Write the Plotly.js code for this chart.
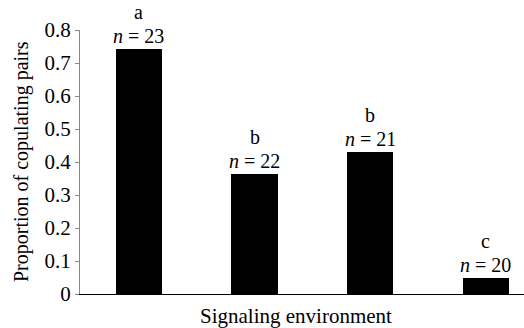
<!DOCTYPE html>
<html>
<head>
<meta charset="utf-8">
<script src="https://cdn.plot.ly/plotly-3.0.1.min.js"></script>
<style>html,body{margin:0;padding:0;background:#fff}#chart{width:524px;height:328px}</style>
</head>
<body>
<div id="chart"></div>
<script>
var categories = ["A", "B", "C", "D"];
var proportions = [0.742, 0.364, 0.429, 0.048];
var letters = ["a", "b", "b", "c"];
var sampleSizes = [23, 22, 21, 20];

var FONT = "'Liberation Serif', 'Times New Roman', serif";
var FS = 20;

var annotations = [];
categories.forEach(function (c, i) {
  annotations.push({
    x: i, y: proportions[i], xref: "x", yref: "y",
    text: "<i>n</i> = " + sampleSizes[i],
    showarrow: false, xanchor: "center", yanchor: "bottom", yshift: 0,
    font: {family: FONT, size: FS, color: "#000"}
  });
  annotations.push({
    x: i, y: proportions[i], xref: "x", yref: "y",
    text: letters[i],
    showarrow: false, xanchor: "center", yanchor: "bottom", yshift: 24,
    font: {family: FONT, size: FS, color: "#000"}
  });
});
annotations.push({
  x: 0.487, y: 0, xref: "paper", yref: "paper",
  text: "Signaling environment", showarrow: false,
  xanchor: "center", yanchor: "top", yshift: -8,
  font: {family: FONT, size: FS + 1, color: "#000"}
});
annotations.push({
  x: 0, y: 0.5, xref: "paper", yref: "paper",
  text: "Proportion of copulating pairs", showarrow: false, textangle: -90,
  xanchor: "center", yanchor: "middle", xshift: -59,
  font: {family: FONT, size: FS, color: "#000"}
});

var data = [{
  type: "bar",
  x: categories.map(function (c, i) { return i; }),
  y: proportions,
  width: 0.4,
  marker: {color: "#000", line: {width: 0}},
  hoverinfo: "none"
}];

var layout = {
  width: 524, height: 328,
  margin: {l: 80, r: 0, t: 30, b: 34, pad: 0},
  paper_bgcolor: "#fff", plot_bgcolor: "#fff",
  showlegend: false,
  bargap: 0,
  xaxis: {
    range: [-0.51, 3.33], showticklabels: false, ticks: "",
    showgrid: false, zeroline: false,
    showline: true, linecolor: "#000", linewidth: 1
  },
  yaxis: {
    range: [0, 0.8],
    tickvals: [0, 0.1, 0.2, 0.3, 0.4, 0.5, 0.6, 0.7, 0.8],
    ticktext: ["0", "0.1", "0.2", "0.3", "0.4", "0.5", "0.6", "0.7", "0.8"],
    ticks: "outside", ticklen: 4, tickcolor: "#888", tickwidth: 1,
    showgrid: false, zeroline: false,
    showline: true, linecolor: "#888", linewidth: 1,
    tickfont: {family: FONT, size: FS + 1, color: "#000"},
    automargin: false
  },
  annotations: annotations
};

Plotly.newPlot("chart", data, layout, {staticPlot: true, displayModeBar: false});
</script>
</body>
</html>
